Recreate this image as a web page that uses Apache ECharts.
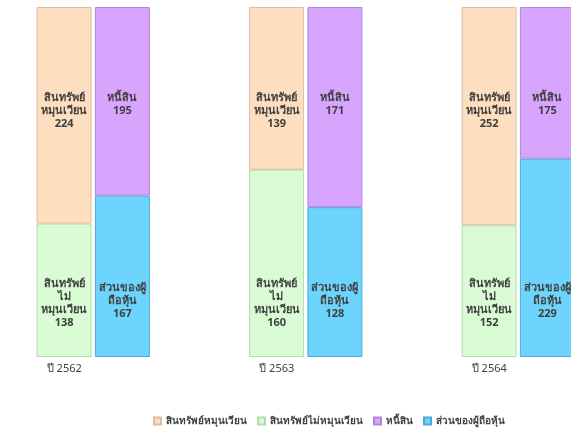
<!DOCTYPE html>
<html lang="th">
<head>
    <meta charset="UTF-8">
    <title>งบแสดงฐานะการเงิน</title>
    <script type="text/javascript" src="https://cdn.jsdelivr.net/npm/echarts@6/dist/echarts.min.js"></script>
    <style>
        body{
            padding: 0px;
            margin: 0px;
            background-color: #ffffff;
        }
        #bar{
            width: 571px;
            height: 438px;
        }
    </style>
</head>
<body>
    <div id="bar"></div>
    <script>
        // ข้อมูล (ล้านบาท)
        var years = ['ปี 2562', 'ปี 2563', 'ปี 2564'];
        var currentAssets = [224, 139, 252];
        var nonCurrentAssets = [138, 160, 152];
        var liabilities = [195, 171, 175];
        var equity = [167, 128, 229];

        var names = ['สินทรัพย์หมุนเวียน', 'สินทรัพย์ไม่หมุนเวียน', 'หนี้สิน', 'ส่วนของผู้ถือหุ้น'];
        var labelNames = ['สินทรัพย์\nหมุนเวียน', 'สินทรัพย์\nไม่\nหมุนเวียน', 'หนี้สิน', 'ส่วนของผู้\nถือหุ้น'];

        var font = 'Tahoma, "Noto Sans", sans-serif';

        // แปลงเป็นสัดส่วน (100%) เพื่อให้แท่งสูงเท่ากัน
        function share(part, other) {
            return part.map(function (v, i) { return v / (v + other[i]) * 100; });
        }

        function makeSeries(idx, values, other, stack, color, border, pos, dist) {
            return {
                name: names[idx],
                type: 'bar',
                stack: stack,
                barWidth: 55,
                barGap: '6%',
                data: share(values, other).map(function (p, i) {
                    return { value: p, raw: values[i] };
                }),
                itemStyle: { color: color, borderColor: border, borderWidth: 1 },
                label: {
                    show: true,
                    position: pos,
                    distance: dist,
                    color: '#404040',
                    fontFamily: font,
                    fontSize: 11,
                    fontWeight: 'bold',
                    lineHeight: 13,
                    align: 'center',
                    formatter: function (p) {
                        return labelNames[idx] + '\n' + p.data.raw;
                    }
                }
            };
        }

        var chart = echarts.init(document.getElementById('bar'));

        chart.setOption({
            animation: false,
            legend: {
                data: names,
                left: 148,
                bottom: 7,
                itemWidth: 7,
                itemHeight: 7,
                itemGap: 10,
                icon: 'rect',
                textStyle: { color: '#404040', fontFamily: font, fontSize: 10, fontWeight: 'bold' }
            },
            grid: { left: -13, width: 637.5, top: 7, bottom: 81, outerBoundsMode: 'none' },
            xAxis: {
                type: 'category',
                data: years,
                axisLine: { show: false },
                axisTick: { show: false },
                axisLabel: {
                    color: '#404040',
                    fontFamily: font,
                    fontSize: 11,
                    margin: 6,
                    padding: [0, 58, 0, 0]
                }
            },
            yAxis: {
                type: 'value',
                min: 0,
                max: 100,
                show: false
            },
            series: [
                makeSeries(1, nonCurrentAssets, currentAssets, 'assets', '#dafcd5', '#b8d8b3', 'insideBottom', 28),
                makeSeries(0, currentAssets, nonCurrentAssets, 'assets', '#fddebf', '#dcbea2', 'insideTop', 84),
                makeSeries(3, equity, liabilities, 'debt', '#6dd5fd', '#4aaad4', 'insideBottom', 37),
                makeSeries(2, liabilities, equity, 'debt', '#d7a5fd', '#b486d6', 'insideTop', 84)
            ]
        });
    </script>
</body>
</html>
